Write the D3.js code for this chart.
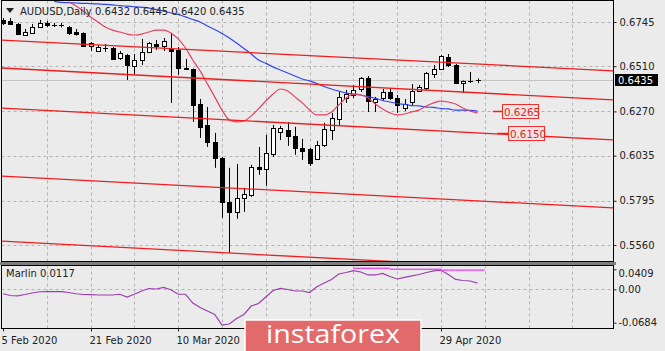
<!DOCTYPE html>
<html><head><meta charset="utf-8">
<script src="https://cdn.jsdelivr.net/npm/d3@7"></script>
<style>body{margin:0;background:#ebebeb;}svg{display:block;}</style>
</head><body>
<svg id="c" width="665" height="351"></svg>
<script>
// ---------- data ----------
const symbolTitle = "AUDUSD,Daily";
const lastQuote = "0.6432 0.6445 0.6420 0.6435";
const dateLabels = ["5 Feb 2020", "21 Feb 2020", "10 Mar 2020", "29 Apr 2020"];
const dateLabelBars = [0, 12, 24, 60];
const priceTicks = [0.6745, 0.6510, 0.6270, 0.6035, 0.5795, 0.5560];
const oscTicks = [0.0409, 0, -0.0684];
const oscTickLabels = ["0.0409", "0.00", "-0.0684"];

const open  = [0.6756,0.6750,0.6734,0.6676,0.6687,0.6718,0.6740,0.6729,0.6727,0.6718,0.6692,0.6687,0.6618,0.6591,0.6607,0.6607,0.6554,0.6570,0.6511,0.6543,0.6586,0.6628,0.6618,0.6602,0.6596,0.6501,0.6495,0.6310,0.6198,0.6108,0.6023,0.5789,0.5736,0.5810,0.5826,0.5975,0.5964,0.6044,0.6161,0.6172,0.6140,0.6076,0.6071,0.6018,0.6092,0.6172,0.6230,0.6341,0.6357,0.6389,0.6448,0.6320,0.6341,0.6373,0.6341,0.6288,0.6320,0.6378,0.6394,0.6469,0.6495,0.6559,0.6517,0.6421,0.6430,0.6432];
const high  = [0.6766,0.6766,0.6740,0.6708,0.6734,0.6756,0.6750,0.6740,0.6740,0.6724,0.6708,0.6690,0.6639,0.6623,0.6628,0.6612,0.6591,0.6575,0.6575,0.6655,0.6639,0.6649,0.6660,0.6687,0.6612,0.6549,0.6498,0.6336,0.6294,0.6156,0.6028,0.5970,0.5991,0.5864,0.5986,0.6081,0.6145,0.6198,0.6193,0.6214,0.6188,0.6124,0.6076,0.6113,0.6209,0.6262,0.6373,0.6384,0.6410,0.6453,0.6458,0.6347,0.6389,0.6389,0.6357,0.6336,0.6415,0.6410,0.6479,0.6517,0.6570,0.6575,0.6522,0.6434,0.6479,0.6445];
const low   = [0.6729,0.6729,0.6676,0.6673,0.6684,0.6716,0.6718,0.6718,0.6716,0.6676,0.6673,0.6612,0.6591,0.6586,0.6586,0.6543,0.6543,0.6437,0.6469,0.6517,0.6580,0.6596,0.6591,0.6315,0.6464,0.6490,0.6214,0.6129,0.6081,0.5970,0.5704,0.5518,0.5699,0.5736,0.5816,0.5933,0.5874,0.6028,0.6118,0.6087,0.6039,0.6012,0.5980,0.6012,0.6081,0.6118,0.6198,0.6315,0.6341,0.6373,0.6267,0.6267,0.6326,0.6331,0.6262,0.6272,0.6299,0.6373,0.6384,0.6448,0.6493,0.6506,0.6418,0.6368,0.6421,0.6420];
const close = [0.6740,0.6734,0.6681,0.6692,0.6718,0.6740,0.6729,0.6727,0.6724,0.6687,0.6681,0.6618,0.6634,0.6612,0.6609,0.6549,0.6580,0.6517,0.6543,0.6586,0.6634,0.6618,0.6644,0.6591,0.6501,0.6493,0.6304,0.6187,0.6108,0.6023,0.5789,0.5736,0.5810,0.5832,0.5975,0.5964,0.6049,0.6182,0.6182,0.6140,0.6076,0.6060,0.5996,0.6092,0.6177,0.6235,0.6347,0.6363,0.6384,0.6448,0.6326,0.6336,0.6373,0.6341,0.6304,0.6309,0.6378,0.6399,0.6474,0.6495,0.6564,0.6517,0.6421,0.6431,0.6432,0.6435];

// slow moving average (blue), bars 0..65, null where off-chart
const maSlow = [null,null,null,null,null,null,null,
 0.6854,0.6849,0.6848,0.6846,0.6844,0.6843,0.6841,0.6839,0.6836,0.6832,0.6829,0.6826,0.6823,0.6819,0.6811,0.6803,0.6793,0.6785,0.6772,0.6758,0.6745,0.6724,0.6705,0.6684,0.6660,0.6633,0.6604,0.6575,0.6543,0.6525,0.6506,0.6490,0.6474,0.6458,0.6442,0.6432,0.6418,0.6402,0.6389,0.6378,0.6368,0.6362,0.6357,0.6349,0.6339,0.6328,0.6320,0.6312,0.6307,0.6301,0.6299,0.6293,0.6291,0.6285,0.6283,0.6277,0.6277,0.6275,0.6272];
// fast moving average (pink)
const maFast = [null,null,null,null,null,null,null,null,null,
 0.6851,0.6830,0.6803,0.6772,0.6745,0.6718,0.6702,0.6692,0.6681,0.6676,0.6681,0.6692,0.6702,0.6702,0.6687,0.6655,0.6607,0.6543,0.6485,0.6416,0.6347,0.6277,0.6224,0.6214,0.6219,0.6246,0.6283,0.6325,0.6362,0.6389,0.6378,0.6347,0.6315,0.6277,0.6251,0.6251,0.6267,0.6304,0.6341,0.6362,0.6357,0.6341,0.6309,0.6283,0.6262,0.6251,0.6256,0.6267,0.6277,0.6299,0.6315,0.6325,0.6320,0.6309,0.6288,0.6272,0.6262];

// Marlin oscillator
const marlin = [-0.0092,-0.0127,-0.0133,-0.0107,-0.0076,-0.0051,-0.0049,-0.0049,-0.0049,-0.0066,-0.0092,-0.0107,-0.0111,-0.0117,-0.0117,-0.0117,-0.0102,-0.0158,-0.0102,-0.0035,0.0016,0.0006,0.0037,-0.0010,-0.0102,-0.0102,-0.0281,-0.0373,-0.0445,-0.0516,-0.0732,-0.0711,-0.0598,-0.0516,-0.0342,-0.0291,-0.0158,-0.0025,0.0020,-0.0004,-0.0035,-0.0035,-0.0066,0.0053,0.0129,0.0201,0.0313,0.0344,0.0381,0.0354,0.0293,0.0293,0.0324,0.0262,0.0211,0.0242,0.0273,0.0303,0.0344,0.0375,0.0389,0.0303,0.0201,0.0180,0.0170,0.0125];
// Marlin maximum (magenta steps)
const marlinMax = [null,null,null,null,null,null,null,null,null,null,null,null,null,null,null,null,null,null,null,null,null,null,null,null,null,null,null,null,null,null,null,null,null,null,null,null,null,null,null,null,null,null,null,null,null,null,null,null,
 0.0430,0.0430,0.0430,0.0430,0.0430,0.0410,0.0410,0.0410,0.0410,0.0410,0.0410,0.0410,0.0392,0.0392,0.0392,0.0392,0.0392,0.0392];

// channel lines (price at left and right edge of the plot)
const channelStart = [0.6649, 0.6501, 0.6288, 0.5927, 0.5581];
const channelEnd   = [0.6485, 0.6331, 0.6118, 0.5757, 0.5411];
// target levels
const levelValues = [0.6265, 0.6150];
const levelLabels = ["0.6265", "0.6150"];

// ---------- layout ----------
const svg = d3.select("#c");
const L = 1.5, R = 613.5, T = 0.5, MB = 261.5, OT = 265.5, OB = 328.5;
const x = d3.scaleLinear().domain([0, 1]).range([3, 10.3]);
const y = d3.scaleLinear().domain([0.5560, 0.6745]).range([245, 22]);
const yo = d3.scaleLinear().domain([-0.0684, 0.0409]).range([322.7, 269.3]);
const font = "'DejaVu Sans', Verdana, sans-serif";
const n = close.length;

svg.append("rect").attr("width", 665).attr("height", 351).attr("fill", "#ebebeb");

const defs = svg.append("defs");
defs.append("clipPath").attr("id", "cm").append("rect").attr("x", L + 0.5).attr("y", T + 0.5).attr("width", R - L - 1).attr("height", MB - T - 1);
defs.append("clipPath").attr("id", "co").append("rect").attr("x", L + 0.5).attr("y", OT + 0.5).attr("width", R - L - 1).attr("height", OB - OT - 1);

const gm = svg.append("g").attr("clip-path", "url(#cm)");
const go = svg.append("g").attr("clip-path", "url(#co)");

// grid
const gridColor = "#b3b3b3";
priceTicks.forEach(p => {
  gm.append("line").attr("x1", L).attr("x2", R).attr("y1", Math.round(y(p)) + 0.5).attr("y2", Math.round(y(p)) + 0.5)
    .attr("stroke", gridColor).attr("stroke-dasharray", "3,3");
});
const vgrid = d3.range(6, 90, 6).filter(i => x(i) < R - 2);
vgrid.forEach(i => {
  const xx = Math.round(x(i)) + 0.5;
  gm.append("line").attr("x1", xx).attr("x2", xx).attr("y1", T).attr("y2", MB).attr("stroke", gridColor).attr("stroke-dasharray", "3,3");
  go.append("line").attr("x1", xx).attr("x2", xx).attr("y1", OT).attr("y2", OB).attr("stroke", gridColor).attr("stroke-dasharray", "3,3");
});
go.append("line").attr("x1", L).attr("x2", R).attr("y1", Math.round(yo(0)) + 0.5).attr("y2", Math.round(yo(0)) + 0.5)
  .attr("stroke", gridColor).attr("stroke-dasharray", "3,3");

// bid line
gm.append("line").attr("x1", L).attr("x2", R).attr("y1", Math.round(y(close[n - 1])) + 0.5).attr("y2", Math.round(y(close[n - 1])) + 0.5)
  .attr("stroke", "#c4c4c4");

// candles
const idx = d3.range(n);
const cg = gm.append("g");
idx.forEach(i => {
  const cx = Math.round(x(i)) + 0.5;
  cg.append("line").attr("x1", cx).attr("x2", cx).attr("y1", y(high[i])).attr("y2", y(low[i])).attr("stroke", "#000");
  const top = y(Math.max(open[i], close[i])), bot = y(Math.min(open[i], close[i]));
  if (bot - top < 1.2) {
    cg.append("line").attr("x1", cx - 2.5).attr("x2", cx + 2.5).attr("y1", Math.round(top) + 0.5).attr("y2", Math.round(top) + 0.5).attr("stroke", "#000");
  } else {
    cg.append("rect").attr("x", cx - 2).attr("y", Math.round(top) + 0.5).attr("width", 4).attr("height", Math.round(bot) - Math.round(top))
      .attr("fill", close[i] >= open[i] ? "#fff" : "#000").attr("stroke", "#000");
  }
});

// moving averages
const lineGen = d3.line().defined(d => d[1] !== null).x(d => x(d[0])).y(d => y(d[1])).curve(d3.curveMonotoneX);
gm.append("path").attr("d", lineGen(maSlow.map((v, i) => [i, v]))).attr("fill", "none").attr("stroke", "#2f45f0").attr("stroke-width", 1.2);
gm.append("path").attr("d", lineGen(maFast.map((v, i) => [i, v]))).attr("fill", "none").attr("stroke", "#e8405f").attr("stroke-width", 1.2);

// channel lines
const i0 = x.invert(0), i1 = x.invert(R);
channelStart.forEach((p, k) => {
  gm.append("line").attr("x1", x(i0)).attr("x2", x(i1)).attr("y1", y(p)).attr("y2", y(channelEnd[k]))
    .attr("stroke", "#f21c1c").attr("stroke-width", 1.3);
});

// level annotations
const levelStart = [67.1, 67.7], levelBox = [68.4, 69.2];
levelValues.forEach((v, k) => {
  const yy = Math.round(y(v)) - 0.5;
  gm.append("line").attr("x1", x(levelStart[k])).attr("x2", x(levelBox[k])).attr("y1", yy).attr("y2", yy).attr("stroke", "#f02020").attr("stroke-width", 1.5);
  gm.append("rect").attr("x", Math.round(x(levelBox[k])) + 0.5).attr("y", yy - 7).attr("width", 36).attr("height", 14)
    .attr("fill", "#efe5e5").attr("stroke", "#f03030");
  gm.append("text").attr("x", Math.round(x(levelBox[k])) + 2).attr("y", yy + 4.5).text(levelLabels[k])
    .attr("font-family", font).attr("font-size", 10.3).attr("fill", "#f02020");
});

// oscillator
const oline = d3.line().defined(d => d[1] !== null).x(d => x(d[0])).y(d => yo(d[1]));
go.append("path").attr("d", oline(marlin.map((v, i) => [i, v]))).attr("fill", "none").attr("stroke", "#9c3fae").attr("stroke-width", 1.2);
marlinMax.forEach((v, i) => {
  if (v === null) return;
  go.append("line").attr("x1", x(i)).attr("x2", x(i + 1)).attr("y1", yo(v)).attr("y2", yo(v)).attr("stroke", "#f030f0").attr("stroke-width", 1.2);
});

// frames and separator
svg.append("rect").attr("x", L).attr("y", T).attr("width", R - L).attr("height", MB - T).attr("fill", "none").attr("stroke", "#000");
svg.append("rect").attr("x", 0).attr("y", 262).attr("width", 616).attr("height", 3).attr("fill", "#7d7d7d");
svg.append("rect").attr("x", L).attr("y", OT).attr("width", R - L).attr("height", OB - OT).attr("fill", "none").attr("stroke", "#000");

// price axis
const pax = svg.append("g").attr("transform", `translate(${R},0)`)
  .call(d3.axisRight(y).tickValues(priceTicks).tickSize(3).tickPadding(3).tickFormat(d3.format(".4f")));
pax.select(".domain").remove();
pax.selectAll("text").attr("font-family", font).attr("font-size", 10).attr("fill", "#222");
pax.selectAll("line").attr("stroke", "#222");

// current price label
const cy = y(close[n - 1]);
svg.append("rect").attr("x", 615).attr("y", Math.round(cy) - 6).attr("width", 43).attr("height", 12).attr("fill", "#000");
svg.append("text").attr("x", 618).attr("y", Math.round(cy) + 4).text(d3.format(".4f")(close[n - 1]))
  .attr("font-family", font).attr("font-size", 10).attr("fill", "#fff");

// oscillator axis
const oax = svg.append("g").attr("transform", `translate(${R},0)`)
  .call(d3.axisRight(yo).tickValues(oscTicks).tickSize(3).tickPadding(2).tickFormat((d, k) => oscTickLabels[k]));
oax.select(".domain").remove();
oax.selectAll("text").attr("font-family", font).attr("font-size", 10).attr("fill", "#222")
  .attr("dy", (d, k) => k === 0 ? "0.75em" : "0.32em");
oax.selectAll("line").attr("stroke", "#222");

// date axis
dateLabelBars.forEach((b, k) => {
  const xx = Math.round(x(b)) + 0.5;
  svg.append("line").attr("x1", xx).attr("x2", xx).attr("y1", OB).attr("y2", OB + 3).attr("stroke", "#222");
  svg.append("text").attr("x", Math.max(0, xx - 2)).attr("y", 344).text(dateLabels[k])
    .attr("font-family", font).attr("font-size", 10).attr("fill", "#222");
});

// titles
svg.append("path").attr("d", "M6,8 L14,8 L10,13 Z").attr("fill", "#222");
svg.append("text").attr("x", 20).attr("y", 15).text(symbolTitle).attr("font-family", font).attr("font-size", 10).attr("fill", "#222");
svg.append("text").attr("x", 95).attr("y", 15).text(lastQuote).attr("font-family", font).attr("font-size", 10).attr("fill", "#222");
svg.append("text").attr("x", 6).attr("y", 277).text("Marlin " + d3.format(".4f")(0.0117)).attr("font-family", font).attr("font-size", 10).attr("fill", "#222");

// watermark
svg.append("rect").attr("x", 245).attr("y", 320).attr("width", 176).attr("height", 34).attr("fill", "#e36a6a").attr("stroke", "#fff").attr("stroke-width", 1.5);
svg.append("text").attr("x", 333).attr("y", 343).attr("text-anchor", "middle").text("instaforex")
  .attr("font-family", "'Open Sans', sans-serif").attr("font-size", 25).attr("fill", "#fff")
  .attr("textLength", 134).attr("lengthAdjust", "spacingAndGlyphs");
</script>
</body></html>
